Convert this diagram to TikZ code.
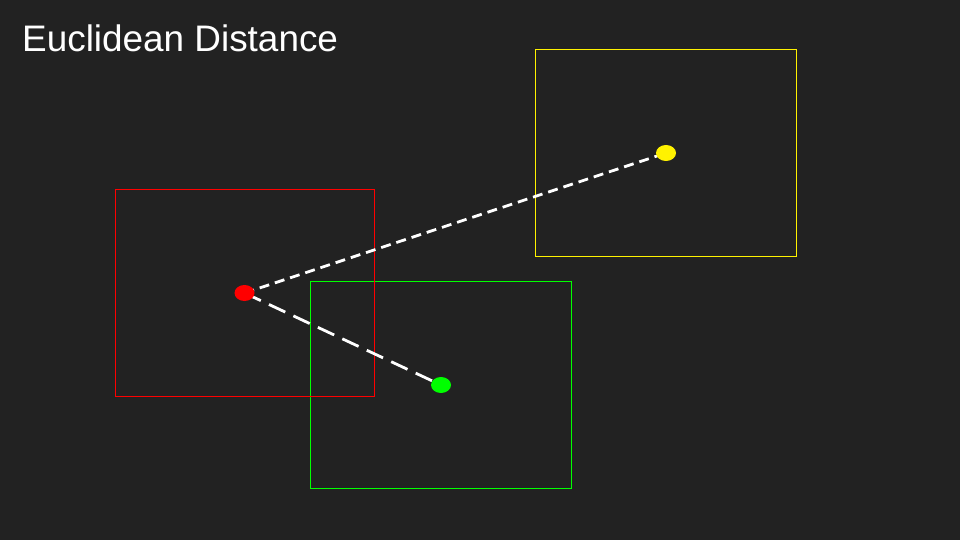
\documentclass[tikz,border=0pt]{standalone}
\usepackage{fontspec}
\setmainfont{Liberation Sans}
\usetikzlibrary{shapes.geometric}
\definecolor{bg}{HTML}{222222}
\begin{document}
\begin{tikzpicture}[x=1pt,y=-1pt,
  box/.style={line width=1pt},
  dot/.style={ellipse, minimum width=20pt, minimum height=16pt, inner sep=0pt},
  link/.style={white, line width=2.8pt}]
\fill[bg] (0,0) rectangle (960,540);
\useasboundingbox (0,0) rectangle (960,540);
\node[anchor=base west, inner sep=0pt, text=white, font=\fontsize{36.9}{40}\selectfont] (title) at (22,52) {Euclidean Distance};
\draw[box, yellow] (535.5,49.5) rectangle (796,256);
\draw[box, green] (310.5,281.5) rectangle (571,488);
\draw[box, red] (115,189) rectangle (374,396);
\coordinate (r) at (244.5,293);
\coordinate (y) at (666,153);
\coordinate (g) at (441,385);
\draw[link, dash pattern=on 10pt off 6pt] (r) -- (y);
\draw[link, dash pattern=on 18pt off 9pt] (r) -- (g);
\node[dot, fill=red] (rd) at (r) {};
\node[dot, fill=yellow] (yd) at (y) {};
\node[dot, fill=green] (gd) at (g) {};
\end{tikzpicture}
\end{document}
